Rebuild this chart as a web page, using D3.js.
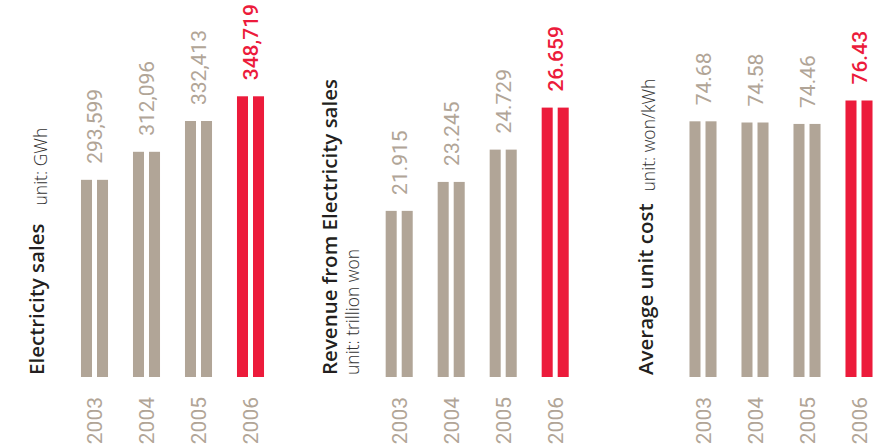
<!DOCTYPE html>
<html>
<head>
<meta charset="utf-8">
<script src="https://cdn.jsdelivr.net/npm/d3@7"></script>
<style>
  html, body { margin: 0; padding: 0; background: #ffffff; }
  svg { display: block; }
</style>
</head>
<body>
<svg id="chart" width="887" height="446"></svg>
<script>
// Years shown under every panel
const years = ["2003", "2004", "2005", "2006"];

// Electricity sales, GWh
const salesGWh = [293599, 312096, 332413, 348719];
// Revenue from electricity sales, trillion won
const revenueTrillionWon = [21.915, 23.245, 24.729, 26.659];
// Average unit cost, won/kWh
const unitCostWonPerKWh = [74.68, 74.58, 74.46, 76.43];

const GREY = "#b1a597";
const RED = "#ec1b3b";
const DARK = "#231f20";

const svg = d3.select("#chart");
const baseY = 377;

// Panel layout: value axis starts above zero, so each panel keeps its own baseline value
const panels = [
  { values: salesGWh, fmt: d3.format(","), x0: 68.5, floor: 163487, topY: 96.3,
    title: "Electricity sales", unit: "unit: GWh",
    titleX: 44, unitX: 46.5, unitInline: true, unitGap: 18 },
  { values: revenueTrillionWon, fmt: d3.format(".3f"), x0: 373.2, floor: 14.284, topY: 107.6,
    title: "Revenue from Electricity sales", unit: "unit: trillion won",
    titleX: 336.5, unitX: 358.5, unitInline: false },
  { values: unitCostWonPerKWh, fmt: d3.format(".2f"), x0: 677, floor: 53.18, topY: 100.5,
    title: "Average unit cost", unit: "unit: won/kWh",
    titleX: 653, unitX: 655, unitInline: true, unitGap: 12 }
];

panels.forEach(p => {
  const g = svg.append("g");

  const x = d3.scaleBand()
    .domain(years)
    .range([p.x0, p.x0 + 208])
    .paddingInner(0.48)
    .paddingOuter(0.24);

  const y = d3.scaleLinear()
    .domain([p.floor, d3.max(p.values)])
    .range([baseY, p.topY]);

  const gap = 5;
  const stripe = (x.bandwidth() - gap) / 2;
  const rows = years.map((yr, i) => ({ yr, v: p.values[i], last: i === years.length - 1 }));

  // Each bar is a pair of stripes separated by a thin white gap
  const bars = g.selectAll("g.bar").data(rows).join("g").attr("class", "bar");
  [0, 1].forEach(k => {
    bars.append("rect")
      .attr("x", d => x(d.yr) + k * (stripe + gap))
      .attr("y", d => y(d.v))
      .attr("width", stripe)
      .attr("height", d => baseY - y(d.v))
      .attr("fill", d => d.last ? RED : GREY);
  });

  // Value labels above bars
  g.selectAll("text.val").data(rows).join("text")
    .attr("class", "val")
    .attr("transform", d => `translate(${x(d.yr) + x.bandwidth() / 2},${y(d.v) - 16}) rotate(-90)`)
    .attr("dy", "0.36em")
    .attr("text-anchor", "start")
    .attr("font-family", "Roboto, sans-serif")
    .attr("font-size", 21)
    .attr("font-weight", d => d.last ? 500 : 400)
    .attr("fill", d => d.last ? RED : GREY)
    .text(d => p.fmt(d.v));

  // Year labels below bars
  g.selectAll("text.yr").data(rows).join("text")
    .attr("class", "yr")
    .attr("transform", d => `translate(${x(d.yr) + x.bandwidth() / 2},397) rotate(-90)`)
    .attr("dy", "0.36em")
    .attr("text-anchor", "end")
    .attr("font-family", "Roboto, sans-serif")
    .attr("font-size", 21)
    .attr("fill", GREY)
    .text(d => d.yr);

  // Panel title
  const title = g.append("text")
    .attr("transform", `translate(${p.titleX},375) rotate(-90)`)
    .attr("font-family", "'Open Sans', sans-serif")
    .attr("font-size", 20.5)
    .attr("font-weight", 600)
    .attr("fill", DARK)
    .text(p.title);

  const unitY = p.unitInline
    ? 375 - title.node().getComputedTextLength() - p.unitGap
    : 375;
  g.append("text")
    .attr("transform", `translate(${p.unitX},${unitY}) rotate(-90)`)
    .attr("font-family", "'Open Sans', sans-serif")
    .attr("font-size", 17.5)
    .attr("font-weight", 300)
    .attr("fill", "#333333")
    .text(p.unit);
});
</script>
</body>
</html>
